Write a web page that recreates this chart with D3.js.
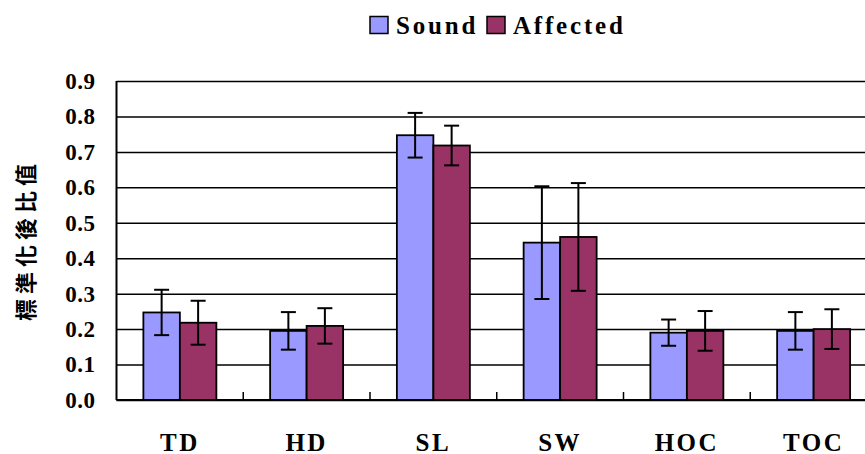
<!DOCTYPE html>
<html>
<head>
<meta charset="utf-8">
<script src="https://cdn.jsdelivr.net/npm/d3@7/dist/d3.min.js"></script>
<style>
  html, body { margin: 0; padding: 0; background: #fff; }
  svg { display: block; }
</style>
</head>
<body>
<svg id="chart" width="865" height="454"></svg>
<script>
const categories = ["TD", "HD", "SL", "SW", "HOC", "TOC"];
const seriesNames = ["Sound", "Affected"];
const soundValues = [0.247, 0.195, 0.747, 0.444, 0.190, 0.195];
const soundErrors = [0.064, 0.053, 0.063, 0.159, 0.037, 0.053];
const affectedValues = [0.218, 0.209, 0.718, 0.460, 0.195, 0.200];
const affectedErrors = [0.062, 0.050, 0.056, 0.152, 0.056, 0.056];
const yTicks = [0, 0.1, 0.2, 0.3, 0.4, 0.5, 0.6, 0.7, 0.8, 0.9];
const yTitle = "標準化後比值";
const colors = ["#9999FF", "#993366"];

(function () {
const svg = d3.select("#chart");
const plotLeft = 116.5, bandW = 126.75, plotTop = 81, plotBottom = 400;
const x = d3.scaleBand().domain(categories).range([plotLeft, plotLeft + bandW * categories.length]).padding(0);
const y = d3.scaleLinear().domain([0, 0.9]).range([plotBottom, plotTop]);
const barW = 36.5;
const plotW = bandW * categories.length;

const serif = "'Liberation Serif', 'Times New Roman', serif";

// grid + y axis labels
const yAxis = d3.axisLeft(y).tickValues(yTicks).tickFormat(d3.format(".1f"))
  .tickSizeInner(-plotW).tickSizeOuter(0).tickPadding(21);
const gy = svg.append("g").attr("transform", `translate(${plotLeft},0)`).call(yAxis);
gy.select(".domain").remove();
gy.selectAll(".tick line").attr("stroke", "#000").attr("stroke-width", 1.5);
gy.selectAll(".tick text").attr("font-family", serif).attr("font-weight", "bold")
  .attr("font-size", 23).attr("letter-spacing", 0.5).attr("fill", "#000");

// y axis line
svg.append("line").attr("x1", plotLeft).attr("x2", plotLeft).attr("y1", plotTop).attr("y2", plotBottom)
  .attr("stroke", "#000").attr("stroke-width", 2);

// x axis: labels, inner ticks at category boundaries
const xAxis = d3.axisBottom(x).tickSize(0).tickPadding(0);
const gx = svg.append("g").attr("transform", `translate(0,${plotBottom})`).call(xAxis);
gx.select(".domain").remove();
gx.selectAll(".tick text").attr("dy", null).attr("y", 50.5)
  .attr("font-family", serif).attr("font-weight", "bold").attr("font-size", 25)
  .attr("letter-spacing", 2.5).attr("fill", "#000");
svg.append("g").selectAll("line").data(categories.slice(1)).join("line")
  .attr("x1", d => x(d)).attr("x2", d => x(d)).attr("y1", plotBottom).attr("y2", plotBottom - 8)
  .attr("stroke", "#000").attr("stroke-width", 1.5);

// bars
const series = [
  { name: seriesNames[0], values: soundValues, errors: soundErrors, color: colors[0], off: -barW },
  { name: seriesNames[1], values: affectedValues, errors: affectedErrors, color: colors[1], off: 0 }
];
series.forEach(s => {
  const g = svg.append("g");
  g.selectAll("rect").data(categories).join("rect")
    .attr("x", (d) => x(d) + x.bandwidth() / 2 + s.off)
    .attr("y", (d, i) => y(s.values[i]))
    .attr("width", barW)
    .attr("height", (d, i) => y(0) - y(s.values[i]))
    .attr("fill", s.color).attr("stroke", "#000").attr("stroke-width", 1.8);
});

// x axis line
svg.append("line").attr("x1", plotLeft).attr("x2", plotLeft + plotW).attr("y1", plotBottom).attr("y2", plotBottom)
  .attr("stroke", "#000").attr("stroke-width", 2);

// error bars
series.forEach(s => {
  const g = svg.append("g").attr("stroke", "#000").attr("stroke-width", 2);
  categories.forEach((c, i) => {
    const cx = x(c) + x.bandwidth() / 2 + s.off + barW / 2;
    const hi = y(s.values[i] + s.errors[i]), lo = y(s.values[i] - s.errors[i]);
    g.append("line").attr("x1", cx).attr("x2", cx).attr("y1", hi).attr("y2", lo);
    g.append("line").attr("x1", cx - 7.5).attr("x2", cx + 7.5).attr("y1", hi).attr("y2", hi);
    g.append("line").attr("x1", cx - 7.5).attr("x2", cx + 7.5).attr("y1", lo).attr("y2", lo);
  });
});

// y title
svg.append("text").attr("transform", "translate(34,240) rotate(-90)")
  .attr("text-anchor", "middle")
  .attr("font-family", "'Noto Sans CJK TC', 'Noto Sans CJK SC', sans-serif")
  .attr("font-weight", "bold").attr("font-size", 22).attr("letter-spacing", 5)
  .attr("fill", "#000").text(yTitle);

// legend
const legendX = [370, 487];
series.forEach((s, i) => {
  svg.append("rect").attr("x", legendX[i]).attr("y", 16.5).attr("width", 18).attr("height", 17)
    .attr("fill", s.color).attr("stroke", "#000").attr("stroke-width", 1.5);
  svg.append("text").attr("x", legendX[i] + 26).attr("y", 34)
    .attr("font-family", serif).attr("font-weight", "bold").attr("font-size", 25)
    .attr("letter-spacing", 2.8).attr("fill", "#000").text(s.name);
});
})();
</script>
</body>
</html>
